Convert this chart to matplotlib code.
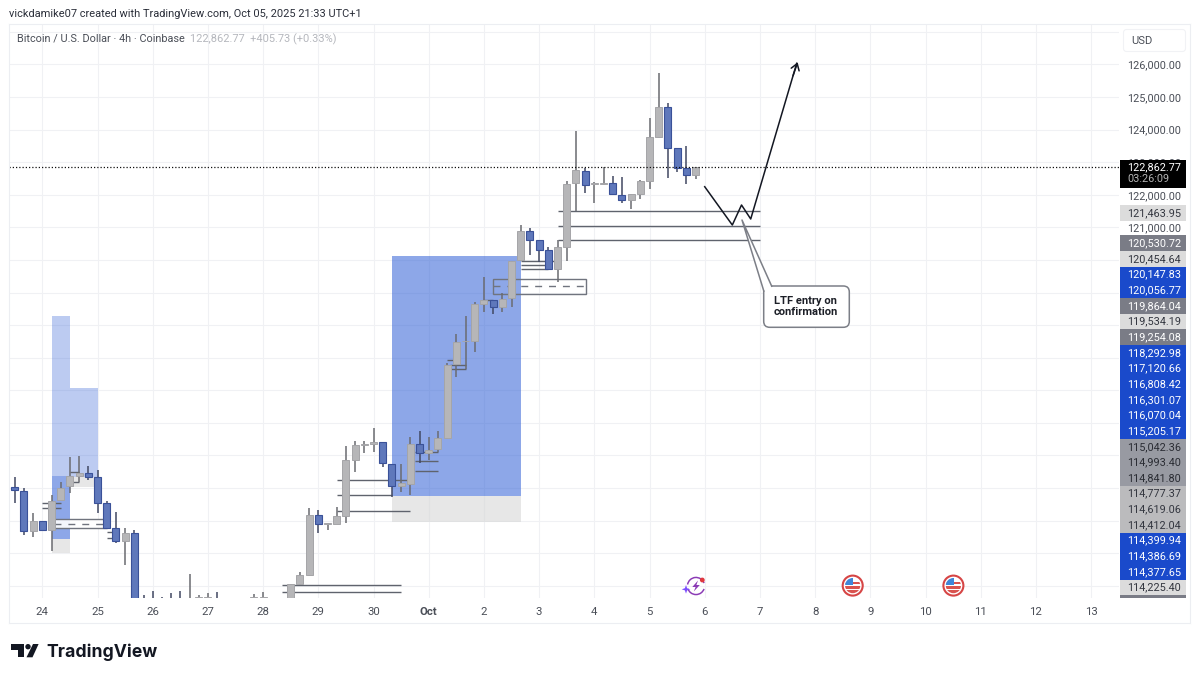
import matplotlib
matplotlib.use("Agg")
import matplotlib.pyplot as plt
import numpy as np
from matplotlib.patches import Rectangle, Circle, Polygon, FancyBboxPatch, Wedge

plt.rcParams['font.family'] = ['Roboto', 'DejaVu Sans']

# ---------- data ----------
opens = [113040,112920,111670,112000,111710,112630,113050,113380,113450,113330,112530,111760,111380,111630,
         109300,109300,109300,109300,109300,109100,109400,109400,109300,109300,109300,109300,109400,109400,109300,109300,
         109300,110050,110340,112180,111890,111890,112140,113870,114330,114350,114410,113740,113070,113120,114360,114060,
         114190,114520,116800,117500,117500,118660,118770,118550,118820,120000,120890,120600,120300,119710,120410,122350,
         122730,122330,122320,122360,122000,121840,122020,122430,123770,124700,123440,122810,122600]
closes = [112930,111670,112000,111710,112590,113010,113370,113450,113340,112530,111760,111380,111630,109200,
          109100,109100,109100,109100,109100,109300,109660,109660,109100,109100,109100,109100,109660,109660,109100,109100,
          110050,110340,112180,111890,111915,112130,113870,114310,114350,114410,113760,113070,113140,114350,114060,114170,
          114540,116780,117490,117520,118640,118760,118550,118790,119960,120900,120600,120310,119710,120390,122330,122750,
          122300,122360,122360,122020,121840,122020,122420,123780,124700,123450,122810,122600,122862.77]
highs = [113330,112990,112240,112000,112780,113170,113940,113980,113670,113550,112610,112250,111760,111710,
         109720,109840,109660,109770,109840,110360,109720,109780,109800,109300,109300,109300,109740,109820,109300,109300,
         110060,110410,112380,112320,111930,112430,114300,114450,114450,114830,114410,113740,113740,114570,114760,114570,
         114760,116830,117720,118280,118710,119490,118770,118980,119960,121070,120990,120600,120410,120610,122430,123970,
         122810,122400,122860,122580,122560,122020,122450,124370,125730,124810,123440,123500,122862.77]
lows = [112550,111550,111500,111710,111070,112630,112840,113190,113240,112220,111760,111320,110640,109000,
        109000,109000,109000,109000,109000,109000,109000,109000,109000,109000,109000,109000,109000,109000,109000,109000,
        109000,110020,110310,111610,111710,111890,111930,113500,114060,114090,113630,112710,112890,112780,113760,113860,
        114110,114490,116400,116640,117180,118410,118340,118410,118560,120000,120150,119930,119690,119330,119960,121510,
        122060,121740,122300,122020,121760,121550,121870,122190,123730,122510,122690,122330,122490]

day_labels = ['24','25','26','27','28','29','30','Oct','2','3','4','5','6','7','8','9','10','11','12','13']
price_ticks = [126000,125000,124000,123000,122000,121000]
last_price = 122862.77
countdown = '03:26:09'

level_start = [3,3,6,6,10,10,29,29,35,35,35,43.5,43.5,43.5,47,47.3,47.3,51,55,55,55,59,59,59]
level_end   = [5,5,7,7,11,11,42,42,42.7,41,43,46,46,46,48.4,49,49,52,59,58,58,81,81,81]
level_price = [112529,112375,113499,113192,111657,111454,110020,109815,113244,112775,112302,114113,113818,113520,
               116928,116775,116642,118770,119952,119845,119712,121512,121051,120603]

path_bars   = [75,78,79,80,85]
path_prices = [122248,121072,121687,121257,126037]

upper_labels = ['121,463.95']
stack_labels = ['120,530.72','120,454.64','120,147.83','120,056.77','119,864.04','119,534.19','119,254.08',
                '118,292.98','117,120.66','116,808.42','116,301.07','116,070.04','115,205.17','115,042.36',
                '114,993.40','114,841.80','114,777.37','114,619.06','114,412.04','114,399.94','114,386.69',
                '114,377.65','114,225.40']
stack_kind = ['d','l','b','b','d','l','d','b','b','b','b','b','b','m','m','m','s','s','s','b','b','b','l']

# ---------- figure ----------
W, H = 1200, 679
fig = plt.figure(figsize=(W/100, H/100), dpi=100, facecolor='white')
ax = fig.add_axes([9/W, 1-597.5/H, (1119-9)/W, (597.5-24)/H])
ax.set_xlim(-0.62, 120.03)
ax.set_ylim(109637, 127243)
for s in ax.spines.values():
    s.set_visible(False)

ax.set_axisbelow(True)
ax.set_xticks(3 + 6*np.arange(len(day_labels)))
ax.set_xticklabels(day_labels, fontsize=8.2, color='#4a4e57')
ax.get_xticklabels()[7].set_fontweight('bold')
ax.set_yticks(np.arange(110000, 127001, 1000))
ax.yaxis.tick_right()
ax.set_yticklabels(['' if v not in price_ticks else f'{v:,.2f}' for v in np.arange(110000, 127001, 1000)],
                   fontsize=7.85, color='#4a4e57')
ax.tick_params(axis='both', length=0)
ax.tick_params(axis='x', pad=6.5)
ax.tick_params(axis='y', pad=6)
ax.grid(True, color='#f0f1f4', lw=0.8)

# position boxes
BLUE = '#2f5fd6'
GREY = '#d4d4d4'
ax.add_patch(Rectangle((41,112762), 14, 120121-112762, fc=BLUE, alpha=.55, lw=0))
ax.add_patch(Rectangle((41,111955), 14, 112762-111955, fc=GREY, alpha=.55, lw=0))
ax.add_patch(Rectangle((4,113376), 2, 118279-113376, fc=BLUE, alpha=.32, lw=0))
ax.add_patch(Rectangle((4,111433), 2, 113376-111433, fc=BLUE, alpha=.55, lw=0))
ax.add_patch(Rectangle((4,110994), 2, 111433-110994, fc=GREY, alpha=.55, lw=0))
ax.add_patch(Rectangle((6,113345), 3, 116068-113345, fc=BLUE, alpha=.32, lw=0))
ax.add_patch(Rectangle((6,113038), 3, 113345-113038, fc=GREY, alpha=.55, lw=0))

# zones with dashed midline
ZC = '#70747e'
ax.add_patch(Rectangle((4.27,111761), 5.73, 112037-111761, fc='white', alpha=.9, lw=0, zorder=2))
ax.add_patch(Rectangle((4.27,111761), 5.73, 112037-111761, fc='none', ec=ZC, lw=1, zorder=2.1))
ax.plot([4.27,10],[111899,111899], color=ZC, lw=1, ls=(0,(5,5)), zorder=2.1)
ax.add_patch(Rectangle((52,118964), 10.07, 119415-118964, fc='none', ec=ZC, lw=1, zorder=2.1))
ax.plot([52,62.07],[119190,119190], color=ZC, lw=1, ls=(0,(5,5)), zorder=2.1)

# levels
ax.hlines(level_price, level_start, level_end, color='#5f636d', lw=1.0, zorder=2.2)

# candles
x = np.arange(len(opens))
o, c, h, l = map(np.array, (opens, closes, highs, lows))
up = c >= o
ax.vlines(x[up], l[up], h[up], color='#6a6b70', lw=1.1, zorder=3)
ax.vlines(x[~up], l[~up], h[~up], color='#414862', lw=1.1, zorder=3)
ax.bar(x[up], (c-o)[up], bottom=o[up], width=.76, color='#b6b6b8', edgecolor='#a5a5a8', lw=.7, zorder=4)
ax.bar(x[~up], (c-o)[~up], bottom=o[~up], width=.76, color='#5f78bb', edgecolor='#3a5198', lw=.8, zorder=4)

# last price line
ax.axhline(last_price, color='#111111', lw=.9, ls=(0,(1,1.6)), zorder=5)

# forecast path
ax.plot(path_bars, path_prices, color='#131722', lw=1.1, zorder=6)
ax.annotate('', xy=(path_bars[-1]+.1, path_prices[-1]+30),
            xytext=(path_bars[-1]-.4, path_prices[-1]-382),
            arrowprops=dict(arrowstyle='->,head_length=.45,head_width=.3', color='#131722', lw=1.1,
                            shrinkA=0, shrinkB=0), zorder=6)

# ---------- overlay chrome in pixels ----------
ov = fig.add_axes([0,0,1,1], facecolor='none')
ov.set_xlim(0, W); ov.set_ylim(H, 0); ov.axis('off')

FR = '#eceef2'
ov.plot([9,9],[24,623], color=FR, lw=.8)
ov.plot([9,1190],[24,24], color=FR, lw=.8)
ov.plot([1190,1190],[24,623], color=FR, lw=.8)
ov.plot([9,1190],[623,623], color=FR, lw=.8)

ov.text(9.3, 14.3, 'vickdamike07 created with TradingView.com, Oct 05, 2025 21:33 UTC+1',
        fontsize=7.95, color='#2a2e39', va='center', ha='left')
ov.text(16.7, 39, 'Bitcoin / U.S. Dollar · 4h · Coinbase', fontsize=7.85, color='#4a4e57', va='center')
ov.text(190.5, 39, '122,862.77  +405.73 (+0.33%)', fontsize=7.9, color='#b5b7bd', va='center')

# USD box
ov.add_patch(FancyBboxPatch((1123.5,29.5), 62, 22, boxstyle='round,pad=0,rounding_size=3', fc='white', ec='#f1f2f5', lw=.8))
ov.text(1131, 40.5, 'USD', fontsize=8, color='#4a4e57', va='center')

LX, LW_ = 1119.7, 66.3
STY = {'l':('#dcdcdc','#33363f'), 'd':('#7a7c86','white'), 'b':('#1a4acb','white'),
       'm':('#989aa2','#2a2c33'), 's':('#bbbbbd','#33363f')}
def label(yc, txt, kind, h=15.65):
    bg, fg = STY[kind]
    ov.add_patch(Rectangle((LX, yc-h/2), LW_, h, fc=bg, lw=0, zorder=3))
    ov.text(1127.5, yc, txt, fontsize=7.85, color=fg, va='center', zorder=4)

label(213, upper_labels[0], 'l')
ys = 243.3 + 15.65*np.arange(len(stack_labels))
for yc, t, k in zip(ys, stack_labels, stack_kind):
    label(yc, t, k)
ov.add_patch(Rectangle((LX, 595.3), LW_, 2.2, fc='#7a7c86', lw=0))

ov.add_patch(Rectangle((LX, 160), LW_, 28, fc='black', lw=0, zorder=5))
ov.text(1127.5, 166.8, f'{last_price:,.2f}', fontsize=7.85, color='white', va='center', zorder=6)
ov.text(1127.5, 179.3, countdown, fontsize=7.85, color='#b4b4b4', va='center', zorder=6)

# callout
ov.add_patch(FancyBboxPatch((763.7,286), 85.6, 41.3, boxstyle='round,pad=0,rounding_size=6', fc='white', ec='#7c7f87', lw=1.1, zorder=7))
ov.add_patch(Polygon([(763.9,291),(742,220),(771.7,286.4)], closed=True, fc='white', ec='none', zorder=7.1))
ov.plot([763.8,742,771.7],[291,220,286.2], color='#7c7f87', lw=1.1, zorder=7.2)
ov.text(773.5, 306.5, 'LTF entry on\nconfirmation', fontsize=8, fontweight='bold', color='#1c1f27',
        va='center', ha='left', linespacing=1.05, zorder=8)

# event icons
def flag(cx, cy):
    r = 10
    ov.add_patch(Circle((cx,cy), r, fc='white', ec='#d64545', lw=1.5, zorder=3))
    clip = Circle((cx,cy), r-2.4, transform=ov.transData)
    parts = [Rectangle((cx-8,cy+.5), 16, 2.6, fc='#d9534f', lw=0),
             Rectangle((cx-8,cy+4.6), 16, 4, fc='#d9534f', lw=0),
             Rectangle((cx-8,cy-3.4), 16, 2.2, fc='#d9534f', lw=0),
             Rectangle((cx-8,cy-8), 8.5, 7.6, fc='#3f86d8', lw=0)]
    for p in parts:
        p.set_zorder(4); ov.add_patch(p); p.set_clip_path(clip)
flag(852.7, 585.6)
flag(953.4, 585.6)

PUR = '#8b3bb5'
ov.add_patch(Wedge((696,586), 9.3, 20, 160, width=1.5, fc=PUR, lw=0, zorder=3))
ov.add_patch(Wedge((696,586), 9.3, 190, 340, width=1.5, fc=PUR, lw=0, zorder=3))
ov.add_patch(Polygon([(698,580.5),(692.3,587),(695.6,587),(693.8,591.5),(699.8,585),(696.4,585)], closed=True, fc=PUR, lw=0, zorder=3))
ov.add_patch(Circle((702.3,580), 2.4, fc='#e0383e', lw=0, zorder=4))
ov.add_patch(Polygon([(686,585),(687.1,588.2),(690.3,589.3),(687.1,590.4),(686,593.6),(684.9,590.4),(681.7,589.3),(684.9,588.2)],
                     closed=True, fc='#7c4dff', lw=0, zorder=4))

# TradingView logo
LC = '#131722'
ov.add_patch(Polygon([(11,644),(24,644),(24,657.3),(18,657.3),(18,649.5),(11,649.5)], closed=True, fc=LC, lw=0))
ov.add_patch(Circle((28,646.7), 2.7, fc=LC, lw=0))
ov.add_patch(Polygon([(33,644),(38.6,644),(32.5,657.3),(26.5,657.3)], closed=True, fc=LC, lw=0))
ov.text(46.5, 657.3, 'TradingView', fontsize=12.7, fontweight='bold', family=['Inter','Roboto'], color=LC, va='baseline', ha='left')

fig.savefig('out.png', dpi=100, facecolor='white')
